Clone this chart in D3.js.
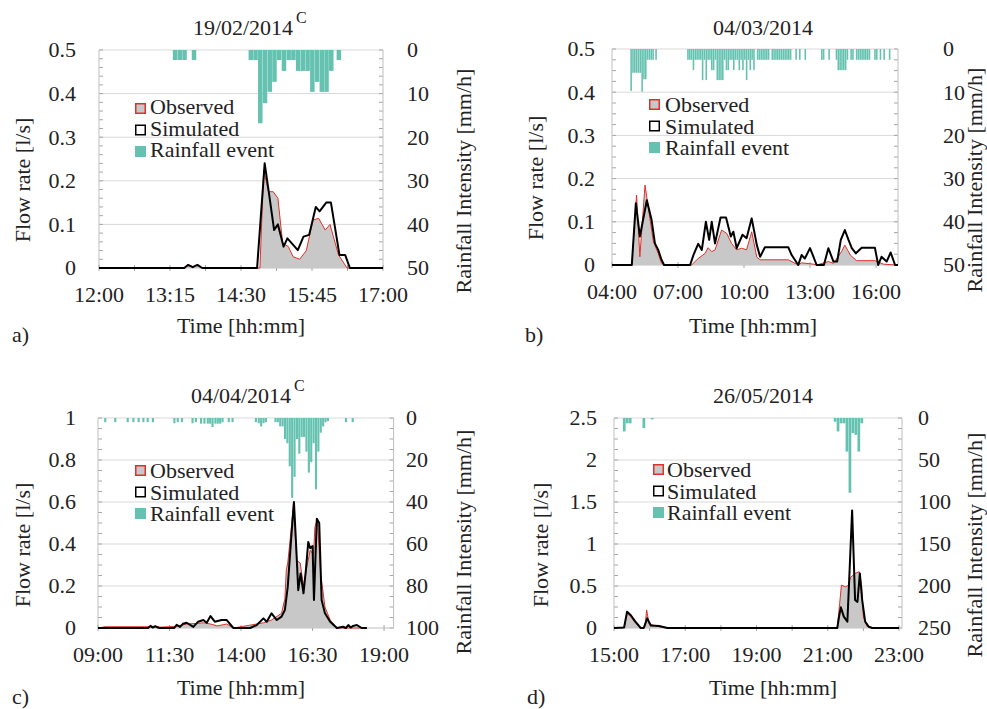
<!DOCTYPE html>
<html><head><meta charset="utf-8">
<script src="https://cdn.jsdelivr.net/npm/d3@7"></script>
<style>
body{margin:0;background:#fff}
svg{display:block}
text{font-family:"Liberation Serif","Times New Roman",serif;fill:#222}
</style>
</head><body><svg id="c" width="987" height="709"></svg>
<script>
// ---------------- DATA ----------------
// Tick labels
const xTicksA = ["12:00","13:15","14:30","15:45","17:00"];
const xTicksB = ["04:00","07:00","10:00","13:00","16:00"];
const xTicksC = ["09:00","11:30","14:00","16:30","19:00"];
const xTicksD = ["15:00","17:00","19:00","21:00","23:00"];
const flowTicksA = [0,0.1,0.2,0.3,0.4,0.5];
const flowTicksB = [0,0.1,0.2,0.3,0.4,0.5];
const flowTicksC = [0,0.2,0.4,0.6,0.8,1];
const flowTicksD = [0,0.5,1,1.5,2,2.5];
const rainTicksA = [0,10,20,30,40,50];
const rainTicksB = [0,10,20,30,40,50];
const rainTicksC = [0,20,40,60,80,100];
const rainTicksD = [0,50,100,150,200,250];
const titles = ["19/02/2014","04/03/2014","04/04/2014","26/05/2014"];
const legendLabels = ["Observed","Simulated","Rainfall event"];

// Rainfall intensity [mm/h], 5-minute bars: [start, value]
const rainA = [["13:18",2.3],["13:23",2.3],["13:28",2.3],["13:38",2.3],
 ["14:38",2.3],["14:43",2.3],["14:48",16.8],["14:53",12.2],["14:58",9.6],["15:03",7.3],["15:08",2.3],["15:13",4.8],
 ["15:18",2.3],["15:23",2.3],["15:28",4.8],["15:33",4.8],["15:38",4.8],["15:43",9.6],["15:48",7.3],["15:53",9.6],
 ["15:58",9.6],["16:03",4.8],["16:11",2.3]];
const rainB = [["04:50",9.7],["04:55",5.5],["05:00",5.5],["05:05",5.5],["05:10",5.5],["05:15",5.5],["05:20",9.9],["05:25",7],
 ["05:30",7],["05:35",2.5],["05:40",2.5],["05:45",2.5],["05:50",2.5],["05:58",2.5],
 ["07:25",2.5],["07:30",2.5],["07:35",2.5],["07:40",4.9],["07:45",2.5],["07:50",2.5],["07:55",2.5],["08:00",2.5],
 ["08:05",7.2],["08:10",2.5],["08:15",7.2],["08:20",2.5],["08:25",2.5],["08:30",4.9],["08:35",4.9],["08:40",2.5],
 ["08:45",7.2],["08:50",7.2],["08:55",7.2],["09:00",7.2],["09:05",2.5],["09:10",4.9],["09:15",4.9],["09:20",2.5],
 ["09:25",2.5],["09:30",4.9],["09:35",2.5],["09:40",2.5],["09:45",4.9],["09:50",2.5],["09:55",4.9],["10:00",2.5],
 ["10:05",7.2],["10:10",2.5],["10:15",4.9],["10:20",2.5],["10:25",4.9],
 ["10:35",2.5],["10:40",2.5],["10:45",2.5],["10:50",2.5],["10:55",2.5],["11:00",2.5],["11:05",2.5],
 ["11:15",2.5],["11:20",2.5],["11:25",2.5],["11:30",2.5],["11:35",2.5],["11:40",2.5],["11:45",2.5],["11:50",2.5],
 ["11:55",2.5],["12:00",2.5],["12:05",2.5],["12:20",2.5],["12:30",2.5],["12:45",2.5],
 ["13:30",2.5],["13:35",2.5],["13:50",2.5],
 ["14:10",2.5],["14:15",4.9],["14:20",4.9],["14:25",4.9],["14:30",4.9],["14:35",4.9],["14:40",2.5],
 ["14:50",2.5],["14:55",2.5],["15:05",2.5],["15:10",2.5],["15:15",2.5],["15:20",2.5],["15:25",2.5],["15:30",2.5],
 ["15:35",2.5],["15:40",2.5],["15:55",2.5],["16:00",2.5],["16:10",2.5],["16:20",2.5],["16:35",2.5]];
const rainC = [["09:13",2],["09:34",2],["10:00",2],["10:12",2],["10:23",2],["10:33",2],["10:42",2],["10:53",2],
 ["11:38",2.5],["11:45",2],["11:54",2],
 ["12:16",2.5],["12:23",2],["12:34",2.7],["12:41",2.7],["12:48",2.7],["12:53",2.7],["12:58",4.3],["13:04",2.7],
 ["13:09",2.7],["13:14",2.7],["13:19",2],["13:32",2],["13:40",2],
 ["14:29",2],["14:35",2.5],["14:40",4],["14:45",2.5],["14:50",2],
 ["15:10",2],["15:15",2],["15:20",4],["15:25",4],["15:30",10],["15:35",12],["15:40",23],["15:45",38],["15:50",28],
 ["15:55",10],["16:00",17],["16:05",9],["16:10",9],["16:15",16],["16:20",26],["16:25",21],["16:30",12],["16:35",34],
 ["16:40",16],["16:45",7],["16:50",4],["16:55",2],["17:00",1.5],
 ["17:38",2],["17:52",2]];
const rainD = [["15:15",16],["15:20",6.3],["15:25",6.3],["15:48",12],["16:02",1.6],
 ["21:10",4.4],["21:15",16],["21:20",6.3],["21:25",6.3],["21:30",40],["21:35",89],["21:40",18],["21:45",20],
 ["21:50",40],["21:55",6.3]];

// Flow rate [l/s]: [time, value]
const obsA = [["12:00",0],["13:30",0],["13:34",0.008],["13:39",0.003],["13:44",0.008],["13:49",0],["14:50",0],
 ["14:54",0.225],["14:59",0.175],["15:04",0.175],["15:09",0.16],["15:14",0.057],["15:20",0.049],["15:25",0.026],
 ["15:32",0.02],["15:39",0.04],["15:46",0.11],["15:52",0.114],["15:59",0.087],["16:04",0.10],["16:13",0.03],
 ["16:22",0],["17:00",0]];
const simA = [["12:00",0],["13:30",0],["13:34",0.007],["13:39",0.002],["13:44",0.007],["13:49",0],["14:47",0],
 ["14:55",0.24],["14:59",0.18],["15:05",0.087],["15:09",0.10],["15:15",0.049],["15:19",0.068],["15:30",0.041],
 ["15:36",0.072],["15:42",0.076],["15:49",0.14],["15:53",0.13],["16:00",0.15],["16:05",0.15],["16:14",0.03],
 ["16:20",0.03],["16:25",0],["17:00",0]];
const obsB = [["04:00",0],["04:54",0],["05:07",0.162],["05:16",0.019],["05:30",0.185],["05:44",0.104],["05:53",0.054],
 ["06:06",0.027],["06:15",0.004],["06:22",0],["07:37",0],["07:55",0.015],["08:14",0.027],["08:22",0.04],["08:32",0.031],
 ["08:41",0.035],["08:59",0.081],["09:13",0.073],["09:26",0.05],["09:40",0.035],["09:54",0.039],["10:07",0.035],
 ["10:21",0.077],["10:35",0.018],["10:44",0.012],["12:01",0.012],["12:28",0],["12:37",0.005],["13:09",0.002],
 ["13:18",0],["13:50",0.008],["14:04",0.004],["14:26",0.031],["14:35",0.046],["14:50",0.023],["15:07",0.01],
 ["15:57",0.01],["16:20",0.002],["16:52",0],["17:00",0]];
const simB = [["04:00",0],["04:54",0],["05:05",0.143],["05:16",0.066],["05:35",0.15],["05:48",0.104],["05:57",0.05],
 ["06:06",0.035],["06:15",0.012],["06:22",0],["07:33",0],["07:42",0.023],["07:55",0.049],["08:05",0.035],["08:16",0.10],
 ["08:25",0.058],["08:32",0.10],["08:41",0.05],["08:56",0.11],["09:11",0.11],["09:24",0.066],["09:31",0.077],
 ["09:40",0.039],["09:56",0.07],["10:07",0.062],["10:21",0.108],["10:35",0.046],["10:44",0.019],["10:57",0.041],
 ["12:01",0.041],["12:10",0.023],["12:28",0],["12:37",0.023],["12:46",0.015],["13:00",0.039],["13:09",0.02],
 ["13:18",0],["13:38",0],["13:50",0.039],["14:04",0.008],["14:14",0.008],["14:24",0.058],["14:35",0.081],
 ["14:45",0.058],["14:54",0.039],["15:05",0.027],["15:21",0.04],["15:57",0.04],["16:06",0],["16:15",0.019],
 ["16:29",0.008],["16:40",0.029],["16:52",0],["17:00",0]];
const obsC = [["09:00",0],["09:15",0.006],["10:50",0.006],["11:00",0.01],["11:10",0.004],["11:45",0.008],["12:06",0.019],
 ["12:30",0.022],["12:41",0.025],["12:56",0.019],["13:10",0.01],["13:30",0.019],["13:44",0],["14:33",0.019],
 ["14:47",0.025],["15:04",0.038],["15:25",0.07],["15:32",0.14],["15:35",0.276],["15:38",0.31],["15:43",0.42],
 ["15:50",0.59],["15:57",0.32],["16:04",0.31],["16:11",0.2],["16:18",0.29],["16:25",0.37],["16:32",0.35],
 ["16:35",0.48],["16:40",0.52],["16:47",0.26],["16:56",0.1],["17:07",0.038],["17:21",0],["18:24",0]];
const simC = [["09:00",0],["10:45",0],["10:50",0.01],["10:55",0.002],["11:00",0.008],["11:08",0],["11:40",0],
 ["11:45",0.015],["11:52",0.005],["11:58",0.02],["12:06",0.025],["12:20",0.005],["12:30",0.03],["12:41",0.038],
 ["12:48",0.025],["12:56",0.057],["13:05",0.03],["13:19",0.038],["13:30",0.038],["13:44",0],["14:19",0],
 ["14:33",0.014],["14:47",0.046],["14:54",0.03],["15:04",0.07],["15:15",0.038],["15:25",0.054],["15:32",0.086],
 ["15:38",0.197],["15:45",0.42],["15:51",0.60],["15:55",0.42],["16:00",0.18],["16:05",0.26],["16:11",0.165],
 ["16:16",0.276],["16:21",0.41],["16:25",0.38],["16:30",0.39],["16:33",0.133],["16:39",0.52],["16:44",0.50],
 ["16:49",0.133],["16:56",0.07],["17:07",0.03],["17:21",0],["17:34",0.006],["17:40",0],["17:45",0.014],
 ["17:50",0.002],["17:55",0.01],["18:03",0.014],["18:13",0],["18:24",0]];
const obsD = [["15:00",0],["15:17",0.006],["15:22",0.175],["15:28",0.135],["15:36",0.06],["15:45",0],["15:52",0.01],
 ["15:55",0.214],["15:59",0.05],["16:16",0.015],["16:30",0],["21:16",0],["21:20",0.29],["21:23",0.51],["21:30",0.49],
 ["21:35",0.51],["21:38",0.60],["21:46",0.65],["21:53",0.67],["21:57",0.5],["22:00",0.13],["22:06",0.02],
 ["22:15",0],["23:00",0]];
const simD = [["15:00",0],["15:17",0.006],["15:22",0.194],["15:28",0.155],["15:36",0.075],["15:45",0],["15:50",0],
 ["15:56",0.115],["16:02",0.03],["16:16",0.024],["16:30",0],["21:16",0],["21:19",0.135],["21:22",0.246],
 ["21:27",0.135],["21:33",0.075],["21:37",0.73],["21:41",1.40],["21:46",0.333],["21:50",0.31],["21:54",0.65],
 ["21:58",0.33],["22:03",0.075],["22:09",0.015],["22:15",0],["23:00",0]];

// ---------------- LAYOUT ----------------
const layouts = [
 {x0:99,x1:383,yb:268,yt:50,dom:["12:00","17:00"],tickStep:37.5,minorN:5,xt:xTicksA,ft:flowTicksA,rt:rainTicksA,rain:rainA,obs:obsA,sim:simA,
  title:{x:243,y:35,sup:"C"},lyl:{x:22,y:180},lyr:{x:463,y:181},xl:{x:241,y:333},letter:{t:"a)",x:12,y:342},
  lLab:76,rLab:407,leg:{sx:135,sy:103,tx:150,ty:114}},
 {x0:612,x1:898,yb:265,yt:49,dom:["04:00","17:00"],tickStep:180,minorN:4,xt:xTicksB,ft:flowTicksB,rt:rainTicksB,rain:rainB,obs:obsB,sim:simB,
  title:{x:763,y:35,sup:null},lyl:{x:535,y:178},lyr:{x:974,y:180},xl:{x:753,y:333},letter:{t:"b)",x:525,y:342},
  lLab:595,rLab:943,leg:{sx:649,sy:99,tx:665,ty:112}},
 {x0:98,x1:393.6,yb:628,yt:418,dom:["09:00","19:20"],tickStep:150,minorN:4,xt:xTicksC,ft:flowTicksC,rt:rainTicksC,rain:rainC,obs:obsC,sim:simC,
  title:{x:241,y:403,sup:"C"},lyl:{x:22,y:545},lyr:{x:463,y:542},xl:{x:241,y:695},letter:{t:"c)",x:12,y:704},
  lLab:76,rLab:406,leg:{sx:135,sy:465,tx:150,ty:478}},
 {x0:614,x1:902,yb:628,yt:418,dom:["15:00","23:05"],tickStep:60,minorN:4,xt:xTicksD,ft:flowTicksD,rt:rainTicksD,rain:rainD,obs:obsD,sim:simD,
  title:{x:763,y:403,sup:null},lyl:{x:540,y:545},lyr:{x:974,y:545},xl:{x:773,y:695},letter:{t:"d)",x:527,y:704},
  lLab:597,rLab:918,leg:{sx:653,sy:464,tx:667,ty:477}}
];

const COL = {rain:"#66c2b0", grid:"#d9d9d9", axis:"#bfbfbf", tick:"#a6a6a6", fill:"#c8c8c8", obs:"#e0302a", sim:"#000"};
const FS = 22;
const toMin = s => { const [h,m] = s.split(":").map(Number); return h*60+m; };
const svg = d3.select("#c");

layouts.forEach((L,i) => {
  const g = svg.append("g");
  const x = d3.scaleLinear().domain(L.dom.map(toMin)).range([L.x0, L.x1]);
  const yF = d3.scaleLinear().domain([0, d3.max(L.ft)]).range([L.yb, L.yt]);
  const yR = d3.scaleLinear().domain([0, d3.max(L.rt)]).range([L.yt, L.yb]);

  // gridlines
  g.selectAll(".grid").data(L.ft.filter(v=>v>0)).join("line")
    .attr("x1",L.x0).attr("x2",L.x1).attr("y1",d=>yF(d)).attr("y2",d=>yF(d))
    .attr("stroke",COL.grid).attr("stroke-width",1);
  // minor ticks (left & right)
  const step = L.ft[1]-L.ft[0];
  const minors = d3.range(0, L.minorN*(L.ft.length-1)+1).map(k => k*step/L.minorN);
  g.selectAll(".ml").data(minors).join("line")
    .attr("x1",L.x0).attr("x2",L.x0+4).attr("y1",d=>yF(d)).attr("y2",d=>yF(d)).attr("stroke",COL.tick);
  g.selectAll(".mr").data(minors).join("line")
    .attr("x1",L.x1-4).attr("x2",L.x1).attr("y1",d=>yF(d)).attr("y2",d=>yF(d)).attr("stroke",COL.tick);
  // axes lines
  g.append("line").attr("x1",L.x0).attr("x2",L.x0).attr("y1",L.yt).attr("y2",L.yb).attr("stroke",COL.axis);
  g.append("line").attr("x1",L.x1).attr("x2",L.x1).attr("y1",L.yt).attr("y2",L.yb).attr("stroke",COL.axis);
  g.append("line").attr("x1",L.x0).attr("x2",L.x1).attr("y1",L.yb).attr("y2",L.yb).attr("stroke",COL.axis);
  // x ticks
  const d0 = toMin(L.dom[0]), d1 = toMin(L.dom[1]);
  const xt = d3.range(d0, d1+0.01, L.tickStep);
  g.selectAll(".xt").data(xt).join("line")
    .attr("x1",d=>x(d)).attr("x2",d=>x(d)).attr("y1",L.yb-3).attr("y2",L.yb+3).attr("stroke",COL.tick);

  // rainfall bars
  g.selectAll(".rain").data(L.rain).join("rect")
    .attr("x",d=>x(toMin(d[0])))
    .attr("width",d=>Math.max(0.8, x(toMin(d[0])+5)-x(toMin(d[0]))-0.25))
    .attr("y",yR(0)).attr("height",d=>yR(d[1])-yR(0))
    .attr("fill",COL.rain);

  // observed area + line
  const pts = a => a.map(d=>[toMin(d[0]), d[1]]);
  const area = d3.area().x(d=>x(d[0])).y0(yF(0)).y1(d=>yF(d[1]));
  const line = d3.line().x(d=>x(d[0])).y(d=>yF(d[1]));
  g.append("path").attr("d",area(pts(L.obs))).attr("fill",COL.fill);
  g.append("path").attr("d",line(pts(L.obs))).attr("fill","none").attr("stroke",COL.obs).attr("stroke-width",1);
  g.append("path").attr("d",line(pts(L.sim))).attr("fill","none").attr("stroke",COL.sim).attr("stroke-width",2).attr("stroke-linejoin","round");

  // tick labels
  g.selectAll(".lt").data(L.ft).join("text")
    .attr("x",L.lLab).attr("y",d=>yF(d)).attr("dy","0.34em").attr("text-anchor","end")
    .attr("font-size",FS).text(d=>String(d));
  g.selectAll(".rt").data(L.rt).join("text")
    .attr("x",L.rLab).attr("y",d=>yR(d)).attr("dy","0.34em").attr("text-anchor","start")
    .attr("font-size",FS).text(d=>String(d));
  g.selectAll(".xl").data(L.xt).join("text")
    .attr("x",d=>x(toMin(d))).attr("y",L.yb+34).attr("text-anchor","middle")
    .attr("font-size",FS).text(d=>d);

  // titles
  const tt = g.append("text").attr("x",L.title.x).attr("y",L.title.y).attr("text-anchor","middle")
    .attr("font-size",FS).text(titles[i]);
  if (L.title.sup) {
    const bb = tt.node().getBBox();
    g.append("text").attr("x",bb.x+bb.width+3).attr("y",L.title.y-12).attr("font-size",16).text(L.title.sup);
  }
  g.append("text").attr("transform",`translate(${L.lyl.x},${L.lyl.y}) rotate(-90)`).attr("text-anchor","middle")
    .attr("dy","0.35em").attr("font-size",FS).text("Flow rate [l/s]");
  g.append("text").attr("transform",`translate(${L.lyr.x},${L.lyr.y}) rotate(-90)`).attr("text-anchor","middle")
    .attr("dy","0.35em").attr("font-size",FS).text("Rainfall Intensity [mm/h]");
  g.append("text").attr("x",L.xl.x).attr("y",L.xl.y).attr("text-anchor","middle").attr("font-size",FS).text("Time [hh:mm]");
  g.append("text").attr("x",L.letter.x).attr("y",L.letter.y).attr("font-size",FS).text(L.letter.t);

  // legend
  const lg = g.append("g");
  const sw = 11, gap = 21.5;
  lg.append("rect").attr("x",L.leg.sx+0.75).attr("y",L.leg.sy+0.75).attr("width",sw-1.5).attr("height",sw-1.5)
    .attr("fill",COL.fill).attr("stroke",COL.obs).attr("stroke-width",1.5);
  lg.append("rect").attr("x",L.leg.sx+0.75).attr("y",L.leg.sy+gap+0.75).attr("width",sw-1.5).attr("height",sw-1.5)
    .attr("fill","#fff").attr("stroke","#000").attr("stroke-width",1.5);
  lg.append("rect").attr("x",L.leg.sx).attr("y",L.leg.sy+2*gap).attr("width",sw).attr("height",sw)
    .attr("fill",COL.rain);
  legendLabels.forEach((t,k) => {
    lg.append("text").attr("x",L.leg.tx).attr("y",L.leg.ty+k*gap).attr("font-size",FS).text(t);
  });
});
</script></body></html>
